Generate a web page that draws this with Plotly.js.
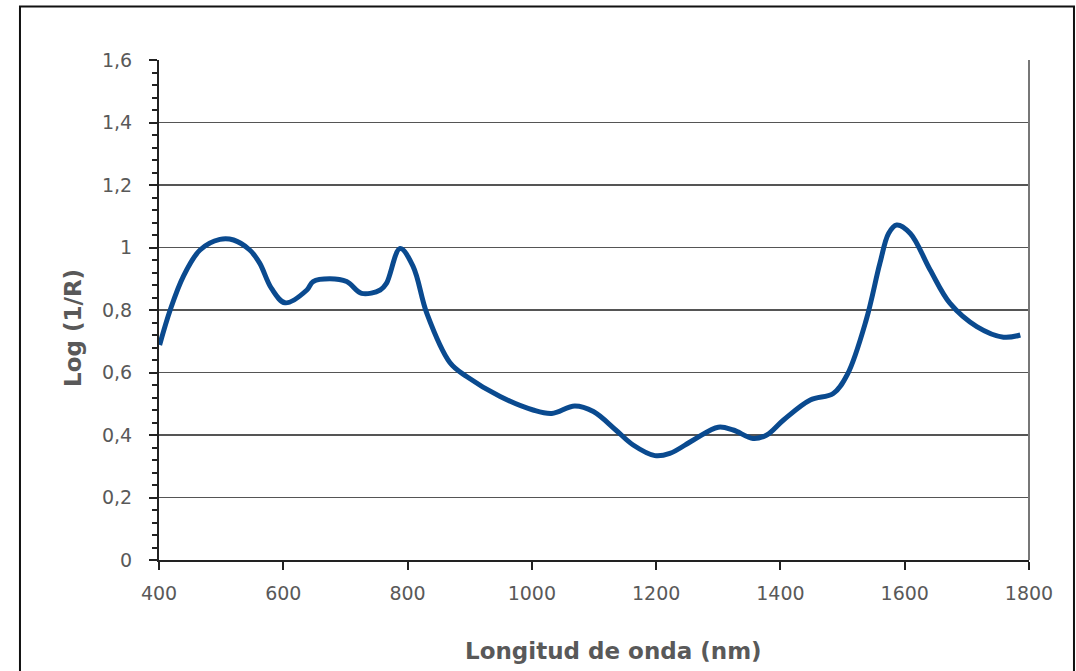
<!DOCTYPE html>
<html>
<head>
<meta charset="utf-8">
<script src="https://cdn.plot.ly/plotly-3.0.1.min.js"></script>
<style>
html,body{margin:0;padding:0;background:#fff;}
#chart{width:1076px;height:671px;}
</style>
</head>
<body>
<div id="chart"></div>
<script>
const wavelength = [401, 418, 439, 466, 498, 520, 546, 562, 581, 603, 638, 648, 675, 702, 726, 756, 766, 788, 809, 831, 868, 895, 949, 1002, 1032, 1069, 1099, 1135, 1163, 1198, 1222, 1260, 1300, 1324, 1356, 1378, 1405, 1448, 1485, 1508, 1538, 1560, 1574, 1587, 1609, 1641, 1673, 1716, 1759, 1786];
const logR = [0.688, 0.80, 0.907, 0.992, 1.026, 1.024, 0.992, 0.95, 0.869, 0.823, 0.864, 0.891, 0.900, 0.891, 0.853, 0.864, 0.885, 0.997, 0.939, 0.789, 0.632, 0.587, 0.523, 0.48, 0.469, 0.493, 0.475, 0.416, 0.368, 0.334, 0.341, 0.384, 0.425, 0.416, 0.389, 0.40, 0.448, 0.512, 0.533, 0.595, 0.768, 0.949, 1.045, 1.072, 1.045, 0.928, 0.821, 0.747, 0.713, 0.72];
const xTicks = [400, 600, 800, 1000, 1200, 1400, 1600, 1800];
const xTitle = 'Longitud de onda (nm)';
const yTitle = 'Log (1/R)';

const trace = {
  x: wavelength, y: logR, type: 'scatter', mode: 'lines',
  line: {color: '#0a4a8f', width: 5, shape: 'spline', smoothing: 1},
  hoverinfo: 'skip'
};

const fontFam = 'Verdana, "DejaVu Sans", sans-serif';
const titleFont = {family: fontFam, size: 23, color: '#595959', weight: 'bold'};
const layout = {
  width: 1076, height: 671,
  margin: {l: 159, r: 47, t: 60, b: 111},
  paper_bgcolor: '#ffffff', plot_bgcolor: '#ffffff',
  separators: ',.',
  showlegend: false,
  font: {family: fontFam, color: '#595959', size: 19},
  xaxis: {
    range: [400, 1800], tickvals: xTicks, ticks: 'outside', ticklen: 8, tickwidth: 2,
    tickcolor: '#222', showline: true, linecolor: '#222', linewidth: 2,
    showgrid: false, zeroline: false, ticklabelstandoff: 7,
    tickfont: {family: fontFam, size: 19, color: '#595959'}
  },
  yaxis: {
    range: [0, 1.6], dtick: 0.2, ticks: 'outside', ticklen: 8, tickwidth: 2,
    tickcolor: '#222', showline: true, linecolor: '#222', linewidth: 2,
    showgrid: true, gridcolor: '#555', gridwidth: 1.5, zeroline: false,
    ticklabelstandoff: 13,
    minor: {dtick: 0.04, ticks: 'outside', ticklen: 5, tickwidth: 2, tickcolor: '#222', showgrid: false},
    tickfont: {family: fontFam, size: 19, color: '#595959'}
  },
  annotations: [
    {text: xTitle, xref: 'paper', yref: 'paper', x: 0.522, y: -0.182, xanchor: 'center', yanchor: 'middle', showarrow: false, font: titleFont},
    {text: yTitle, xref: 'paper', yref: 'paper', x: -0.0989, y: 0.464, xanchor: 'center', yanchor: 'middle', textangle: -90, showarrow: false, font: titleFont}
  ],
  shapes: [
    {type: 'line', xref: 'paper', yref: 'paper', x0: 1, x1: 1, y0: 0, y1: 1, line: {color: '#777', width: 2}},
    {type: 'rect', xref: 'paper', yref: 'paper', x0: -0.1598, x1: 1.0517, y0: -0.24, y1: 1.107, line: {color: '#111', width: 2}, layer: 'below'}
  ]
};

Plotly.newPlot('chart', [trace], layout, {staticPlot: true, displayModeBar: false});
</script>
</body>
</html>
